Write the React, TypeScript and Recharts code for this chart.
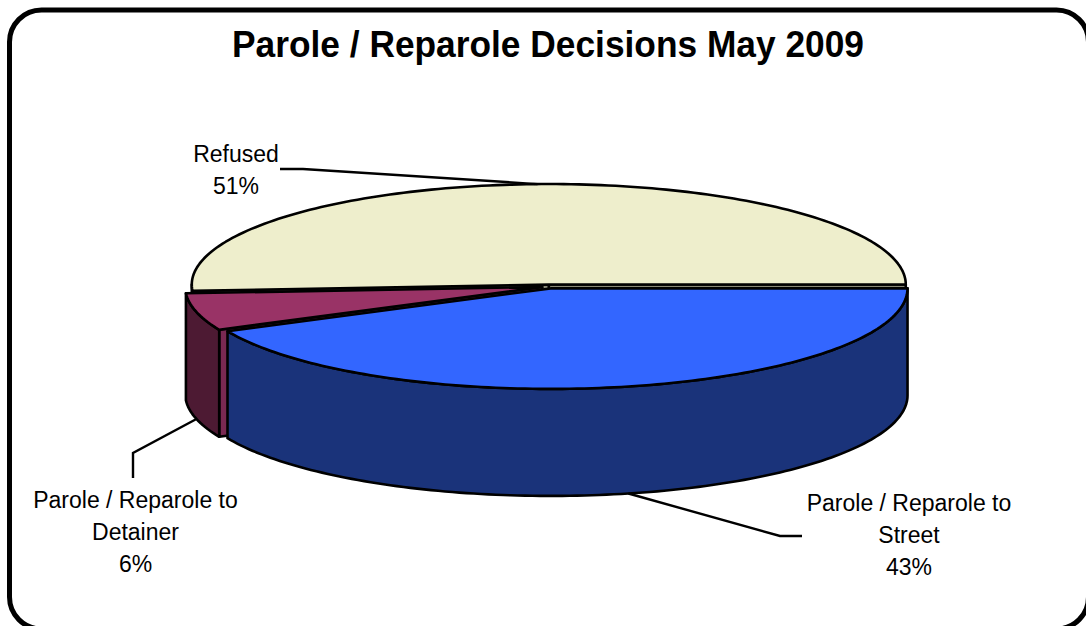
import React from 'react';
import { PieChart, Pie, Cell } from 'recharts';

// ---- data ----
const categories = ['Refused', 'Parole / Reparole to Detainer', 'Parole / Reparole to Street'];
const shares = [51, 6, 43];
const chartTitle = 'Parole / Reparole Decisions May 2009';

const data = categories.map((name, i) => ({ name, value: shares[i] }));

// ---- styles ----
const TOP_COLORS = ['#EEEECC', '#993366', '#3366FF'];
const WALL_COLORS = ['#A3A38C', '#4D1A33', '#1A337A'];
const FACE_COLORS = ['#8A8A77', '#7A2952', '#22408F'];
const FONT = '"Liberation Sans", Arial, Helvetica, sans-serif';

// ---- layout ----
const W = 1086;
const H = 626;
const K = 0.2815; // vertical squash of the tilted disc
const DEPTH = 107; // thickness of the disc
const EXPLODE = 7;
const RAD = Math.PI / 180;
const LINE_GAP = 32;
const LABEL_LAYOUT = [
  { x: 236, y: 162, bend: [[303, 169], [280, 169]] },
  { x: 135.5, y: 508, bend: [[133, 453], [133, 478]] },
  { x: 909, y: 511, bend: [[780, 536], [802, 536]] },
];

function geometry(p: any) {
  const { cx, cy, outerRadius: r, startAngle: s, endAngle: e } = p;
  const mid = (s + e) / 2;
  const ox = cx + EXPLODE * Math.cos(mid * RAD);
  const oy = cy - EXPLODE * K * Math.sin(mid * RAD);
  const P = (deg: number, dy = 0): [number, number] => [
    ox + r * Math.cos(deg * RAD),
    oy - r * K * Math.sin(deg * RAD) + dy,
  ];
  return { s, e, mid, ox, oy, r, P };
}

const fmt = (pts: [number, number][]) => pts.map((q) => `${q[0].toFixed(2)},${q[1].toFixed(2)}`).join(' ');

function arcPts(P: (d: number, dy?: number) => [number, number], a: number, b: number, dy: number) {
  const n = Math.max(2, Math.ceil(Math.abs(b - a) / 1.2));
  const out: [number, number][] = [];
  for (let i = 0; i <= n; i++) out.push(P(a + ((b - a) * i) / n, dy));
  return out;
}

const renderSlice3D = (props: any) => {
  const idx = props.index;
  const { s, e, ox, oy, P } = geometry(props);
  const stroke = { stroke: '#000', strokeWidth: 2.6, strokeLinejoin: 'round' as const };
  const parts: React.ReactNode[] = [];

  // radial faces
  if (Math.cos(s * RAD) > 1e-6) {
    const a = P(s);
    const b = P(s, DEPTH);
    parts.push(
      <polygon key="fs" points={fmt([[ox, oy], a, b, [ox, oy + DEPTH]])} fill={FACE_COLORS[idx]} {...stroke} />
    );
  }
  if (Math.cos(e * RAD) < -1e-6) {
    const a = P(e);
    const b = P(e, DEPTH);
    parts.push(
      <polygon key="fe" points={fmt([[ox, oy], a, b, [ox, oy + DEPTH]])} fill={FACE_COLORS[idx]} {...stroke} />
    );
  }
  // outer wall (front half only)
  const a2 = Math.max(s, 180);
  const b2 = Math.min(e, 360);
  if (b2 > a2) {
    const top = arcPts(P, a2, b2, 0);
    const bottom = arcPts(P, b2, a2, DEPTH);
    parts.push(<polygon key="w" points={fmt([...top, ...bottom])} fill={WALL_COLORS[idx]} {...stroke} />);
  }
  // top
  const topPts: [number, number][] = [[ox, oy], ...arcPts(P, s, e, 0)];
  parts.push(<polygon key="t" points={fmt(topPts)} fill={TOP_COLORS[idx]} {...stroke} />);

  return <g>{parts}</g>;
};

const renderLabel = (props: any) => {
  const idx = props.index;
  const { mid, P } = geometry(props);
  const start = Math.sin(mid * RAD) > 0 ? P(mid) : P(mid, DEPTH);
  const lay = LABEL_LAYOUT[idx];
  const name: string = props.name;
  const lines: string[] = name.startsWith('Parole / Reparole to ')
    ? ['Parole / Reparole to', name.replace('Parole / Reparole to ', '')]
    : [name];
  lines.push(`${Math.round(props.percent * 100)}%`);
  return (
    <g>
      <polyline
        points={fmt([start, ...(lay.bend as [number, number][])])}
        fill="none"
        stroke="#000"
        strokeWidth={2.4}
      />
      <text x={lay.x} y={lay.y} textAnchor="middle" fontFamily={FONT} fontSize={23} fill="#000">
        {lines.map((l, i) => (
          <tspan key={i} x={lay.x} y={lay.y + i * LINE_GAP}>
            {l}
          </tspan>
        ))}
      </text>
    </g>
  );
};

export default function App() {
  return (
    <div style={{ position: 'absolute', left: 0, top: 0, width: W, height: H, background: '#fff', overflow: 'hidden' }}>
      <svg width={W} height={H} style={{ position: 'absolute', left: 0, top: 0 }}>
        <rect x={9.5} y={10} width={1079} height={619} rx={32} ry={32} fill="#fff" stroke="#000" strokeWidth={5} />
        <text
          x={548}
          y={57}
          textAnchor="middle"
          fontFamily={FONT}
          fontWeight="bold"
          fontSize={37}
          textLength={632}
          lengthAdjust="spacingAndGlyphs"
          fill="#000"
        >
          {chartTitle}
        </text>
      </svg>
      <div style={{ position: 'absolute', left: 0, top: 0 }}>
        <PieChart width={W} height={H} margin={{ top: 0, right: 0, bottom: 0, left: 0 }}>
          <Pie
            data={data}
            dataKey="value"
            nameKey="name"
            cx={549}
            cy={286.5}
            outerRadius={357}
            startAngle={0}
            endAngle={360}
            isAnimationActive={false}
            label={renderSlice3D}
            labelLine={false}
            stroke="none"
          >
            {data.map((d, i) => (
              <Cell key={i} fill="transparent" stroke="none" />
            ))}
          </Pie>
          <Pie
            data={data}
            dataKey="value"
            nameKey="name"
            cx={549}
            cy={286.5}
            outerRadius={357}
            startAngle={0}
            endAngle={360}
            isAnimationActive={false}
            label={renderLabel}
            labelLine={false}
            stroke="none"
          >
            {data.map((d, i) => (
              <Cell key={i} fill="transparent" stroke="none" />
            ))}
          </Pie>
        </PieChart>
      </div>
    </div>
  );
}
